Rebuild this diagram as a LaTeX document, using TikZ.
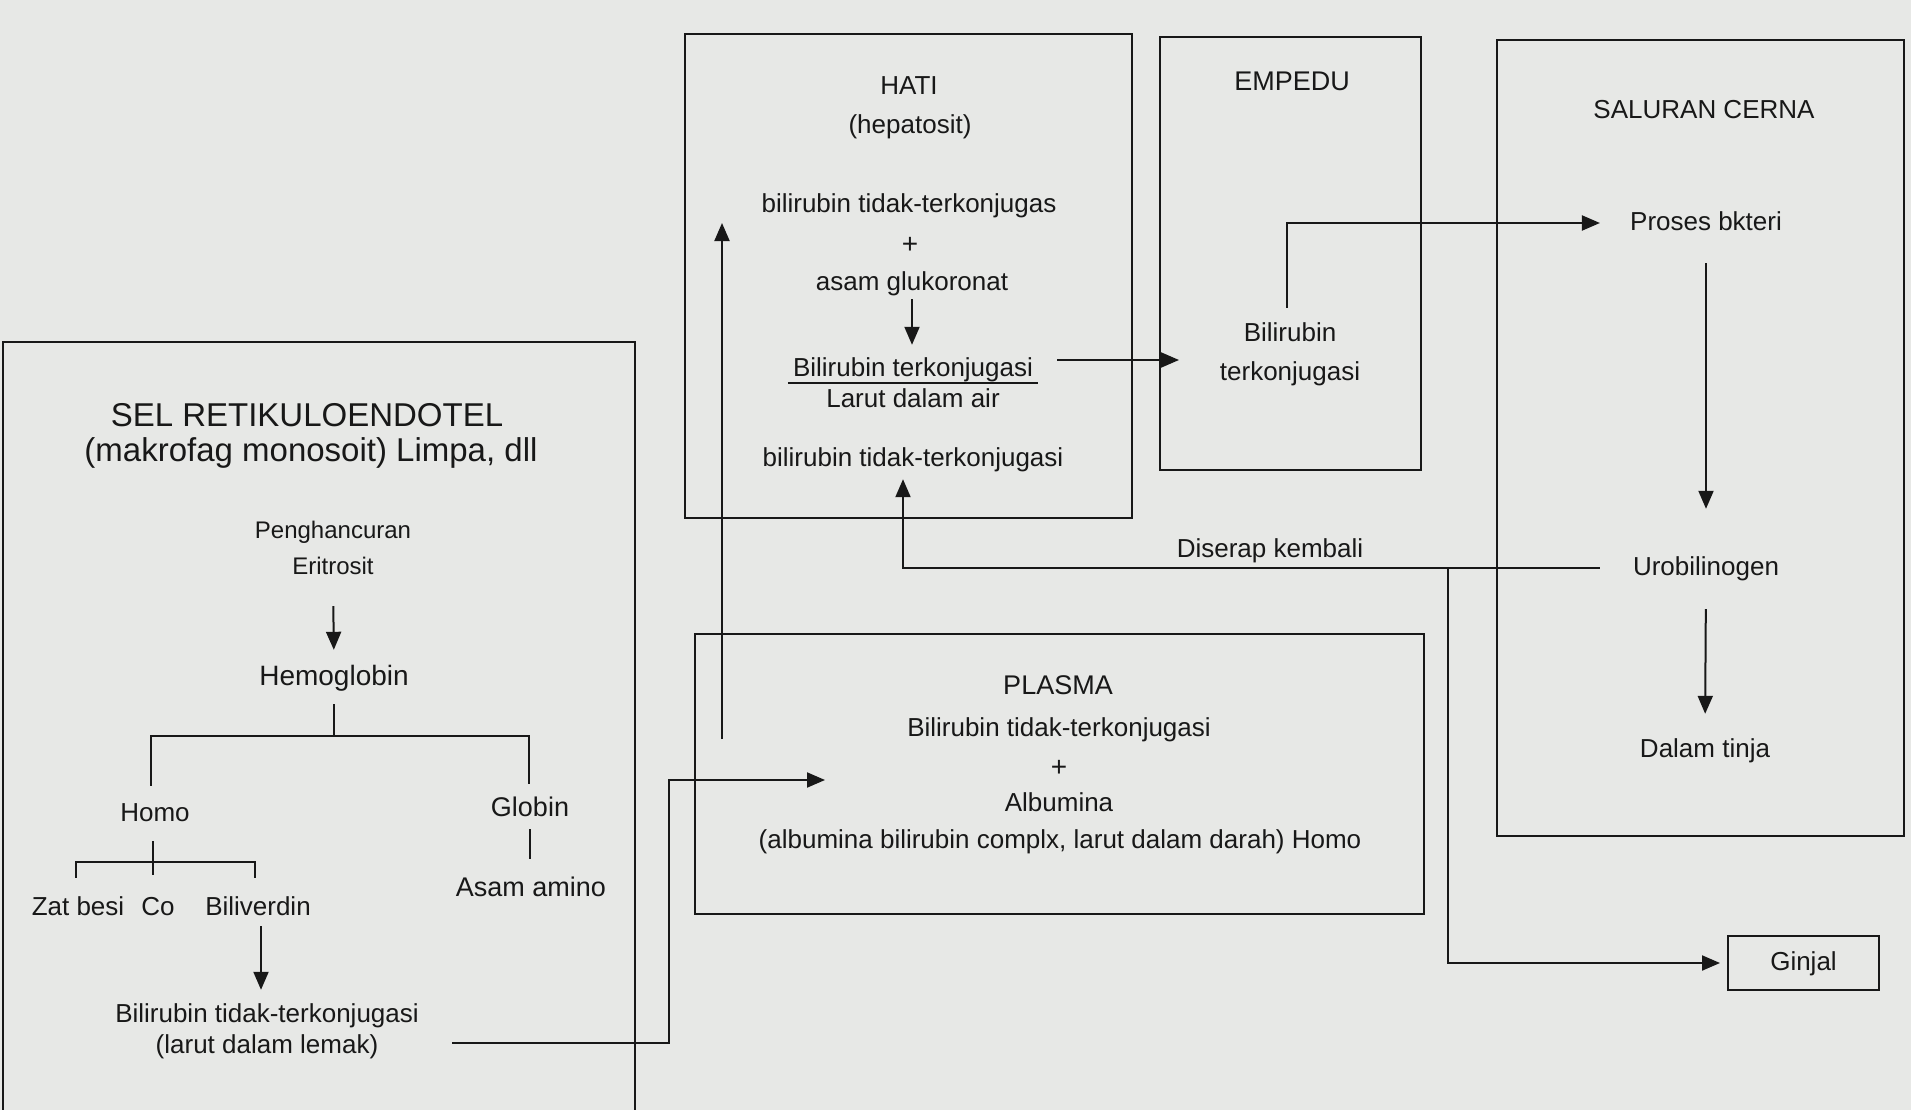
\documentclass[tikz,border=0pt]{standalone}
\usepackage{fontspec}
\setmainfont{Liberation Sans}
\usetikzlibrary{arrows.meta,calc}
\definecolor{ink}{HTML}{181818}
\definecolor{paper}{HTML}{E7E8E6}
\begin{document}
\begin{tikzpicture}[x=1pt,y=-1pt,
  txt/.style={inner sep=0pt, text height=19pt, text depth=5pt, font=\fontsize{26}{30}\selectfont, text=ink},
  big/.style={font=\fontsize{33}{38}\selectfont, text height=24pt, text depth=7pt},
  plus/.style={font=\fontsize{28}{32}\selectfont},
  box/.style={draw=ink, line width=2pt, inner sep=0pt},
  ln/.style={draw=ink, line width=2pt},
  arr/.style={ln, -{Triangle[length=18pt,width=15pt]}},
]
\fill[paper] (0,0) rectangle (1911,1110);
\useasboundingbox (0,0) rectangle (1911,1110);

% ---------- boxes ----------
\node[box, minimum width=632pt, minimum height=800pt, anchor=north west] (sel) at (2,341) {};
\node[box, minimum width=447pt, minimum height=484pt] (hati) at (908.5,276) {};
\node[box, minimum width=261pt, minimum height=433pt] (empedu) at (1290.5,253.5) {};
\node[box, minimum width=407pt, minimum height=796pt] (saluran) at (1700.5,438) {};
\node[box, minimum width=729pt, minimum height=280pt] (plasma) at (1059.5,774) {};
\node[box, txt, minimum width=151pt, minimum height=54pt] (ginjal) at (1803.5,963) {Ginjal};

% ---------- SEL RETIKULOENDOTEL ----------
\node[txt, big] (selt) at (307,418) {SEL RETIKULOENDOTEL};
\node[txt, big] (sels) at (311,453) {(makrofag monosoit) Limpa, dll};
\node[txt, font=\fontsize{24}{28}\selectfont] (pen) at (333,531) {Penghancuran};
\node[txt, font=\fontsize{24}{28}\selectfont] (eri) at (333,567) {Eritrosit};
\node[txt, font=\fontsize{28}{32}\selectfont] (hb) at (334,678) {Hemoglobin};
\node[txt] (homo) at (155,814) {Homo};
\node[txt, font=\fontsize{27}{31}\selectfont] (globin) at (530,809) {Globin};
\node[txt, font=\fontsize{27}{31}\selectfont] (amino) at (531,889) {Asam amino};
\node[txt] (zat) at (78,908) {Zat besi};
\node[txt] (co) at (158,908) {Co};
\node[txt] (bil) at (258,908) {Biliverdin};
\node[txt] (bilt) at (267,1015) {Bilirubin tidak-terkonjugasi};
\node[txt] (lar) at (267,1046) {(larut dalam lemak)};

% ---------- HATI ----------
\node[txt] (hatit) at (909,88) {HATI};
\node[txt] (hep) at (910,127) {(hepatosit)};
\node[txt] (h1) at (909,205) {bilirubin tidak-terkonjugas};
\node[txt, plus] (hplus) at (910,246) {+};
\node[txt] (asam) at (912,283) {asam glukoronat};
\node[txt] (bt) at (913,369) {Bilirubin terkonjugasi};
\node[txt] (air) at (913,400) {Larut dalam air};
\node[txt] (hbt) at (913,459) {bilirubin tidak-terkonjugasi};

% ---------- EMPEDU ----------
\node[txt, font=\fontsize{27}{31}\selectfont] (empt) at (1292,84) {EMPEDU};
\node[txt] (eb1) at (1290,334) {Bilirubin};
\node[txt] (eb2) at (1290,373) {terkonjugasi};

% ---------- SALURAN CERNA ----------
\node[txt] (salt) at (1704,112) {SALURAN CERNA};
\node[txt] (proses) at (1706,223) {Proses bkteri};
\node[txt] (uro) at (1706,568) {Urobilinogen};
\node[txt] (tinja) at (1705,750) {Dalam tinja};

\node[txt] (diserap) at (1270,550) {Diserap kembali};

% ---------- PLASMA ----------
\node[txt, font=\fontsize{27}{31}\selectfont] (plt) at (1058,687) {PLASMA};
\node[txt] (p1) at (1059,729) {Bilirubin tidak-terkonjugasi};
\node[txt, plus] (pplus) at (1059,769) {+};
\node[txt] (p2) at (1059,804) {Albumina};
\node[txt] (p3) at (1060,841) {(albumina bilirubin complx, larut dalam darah) Homo};

% ---------- coordinates ----------
\coordinate (tl) at (151,736);
\coordinate (tr) at (529,736);
\coordinate (hj) at (153,862);
\coordinate (hbl) at (76,862);
\coordinate (hbr) at (255,862);
\coordinate (ls) at (452,1043);
\coordinate (lc) at (669,1043);
\coordinate (pin) at (825,780);
\coordinate (pu0) at (722,739);
\coordinate (pu1) at (722,223);
\coordinate (gj) at (1448,568);
\coordinate (be0) at ([xshift=24pt,yshift=9pt]bt.east);

% ---------- connectors ----------
\draw[arr, shorten <=27pt, shorten >=16pt] (eri.south) -- (hb.north);
\draw[ln, shorten <=14pt] (hb.south) -- (hb.south |- tl);
\draw[ln, shorten <=16pt, shorten >=13pt] (tl |- homo.north) -- (tl) -- (tr) -- (tr |- globin.north);
\draw[ln, shorten <=8pt, shorten >=18pt] (globin.south) -- (globin.south |- amino.north);
\draw[ln, shorten <=15pt, shorten >=21pt] (homo.south -| hj) -- (co.north -| hj);
\draw[ln, shorten <=18pt, shorten >=18pt] (hbl |- zat.north) -- (hbl) -- (hbr) -- (hbr |- bil.north);
\draw[arr, shorten <=6pt, shorten >=13pt] ([xshift=3pt]bil.south) -- ([xshift=3pt]bil.south |- bilt.north);
\draw[arr] (ls) -- (lc) |- (pin);
\draw[arr] (pu0) -- (pu1);

\draw[arr, shorten <=4pt, shorten >=12pt] (asam.south) -- (asam.south |- bt.north);
\draw[ln, line width=1.8pt] ([xshift=-5pt,yshift=-2pt]bt.south west) -- ([xshift=5pt,yshift=-2pt]bt.south east);
\draw[arr, shorten >=-20pt] (be0) -- (be0 -| empedu.west);

\draw[arr, shorten <=14pt, shorten >=30pt] ([xshift=-3pt]eb1.north) |- (proses.west);
\draw[arr, shorten <=28pt, shorten >=47pt] (proses.south) -- (uro.north);
\draw[arr, shorten <=29pt, shorten >=24pt] (uro.south) -- (tinja.north);
\draw[arr, shorten <=33pt, shorten >=8pt] (uro.west) -| ([xshift=-10pt]hbt.south);
\draw[arr, shorten >=7pt] (gj) |- (ginjal.west);
\end{tikzpicture}
\end{document}
